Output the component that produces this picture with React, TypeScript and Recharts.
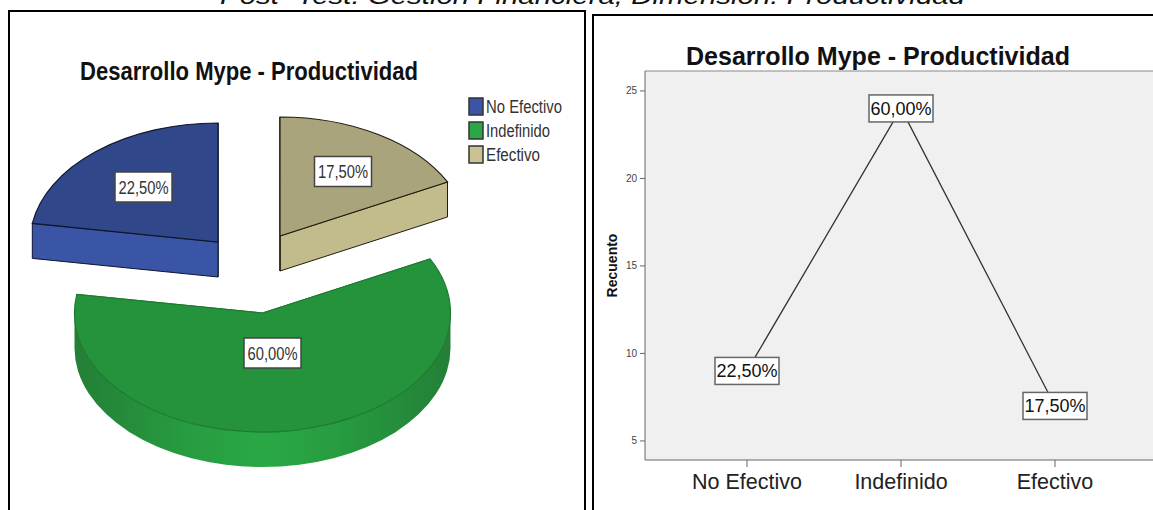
import { Legend, Line, LineChart, CartesianGrid, Pie, PieChart, ReferenceLine, XAxis, YAxis } from 'recharts'

const categorias = ['No Efectivo', 'Indefinido', 'Efectivo']
const recuento = [9, 24, 7]
const ticksRecuento = [5, 10, 15, 20, 25]
const titulo = 'Desarrollo Mype - Productividad'
const encabezado = 'Post -Test: Gestión Financiera, Dimensión: Productividad'

const total = recuento.reduce((a, b) => a + b, 0)
const porcentaje = (n: number) => ((n / total) * 100).toFixed(2).replace('.', ',') + '%'
const filas = categorias.map((nombre, i) => ({ nombre, recuento: recuento[i] }))

// colours and pull-out of each slice, in category order
const estilos = [
  { top: '#30478a', wall: '#3a55a5', edge: '#10162e', swatch: '#3a55a5', shift: [-32, -28], label: [-74.5, -55] },
  { top: '#25933c', wall: 'url(#paredVerde)', edge: '#1f7a32', swatch: '#2aa845', shift: [12.5, 43], label: [10, 40] },
  { top: '#a9a47c', wall: '#c2bc8c', edge: '#1f1d10', swatch: '#c8c294', shift: [30, -34], label: [63, -64.5] },
]

const APLASTADO = 0.633
const GROSOR = 35
const SANS = '"Liberation Sans", Arial, sans-serif'

function Rebanada(props: any) {
  const { cx, cy, outerRadius, startAngle, endAngle, index } = props
  const st = estilos[index]
  const ox = cx + st.shift[0]
  const oy = cy + st.shift[1]
  const rx = outerRadius
  const ry = outerRadius * APLASTADO
  const pt = (deg: number, dy = 0) => {
    const a = (deg * Math.PI) / 180
    return [ox + rx * Math.cos(a), oy - ry * Math.sin(a) + dy]
  }
  const [sx, sy] = pt(startAngle)
  const [ex, ey] = pt(endAngle)
  const large = endAngle - startAngle > 180 ? 1 : 0
  const top = `M${ox},${oy} L${sx},${sy} A${rx},${ry} 0 ${large} 0 ${ex},${ey} Z`

  // side walls along both straight cuts
  const corte = (x: number, y: number) =>
    `M${ox},${oy} L${x},${y} L${x},${y + GROSOR} L${ox},${oy + GROSOR} Z`

  // outer wall only on the half facing front (180-360 degrees)
  const a0 = Math.max(startAngle, 180)
  const a1 = Math.min(endAngle, 360)
  let curva = null
  if (a1 > a0) {
    const [p0x, p0y] = pt(a0)
    const [p1x, p1y] = pt(a1)
    curva = `M${p0x},${p0y} A${rx},${ry} 0 0 0 ${p1x},${p1y} L${p1x},${p1y + GROSOR} A${rx},${ry} 0 0 1 ${p0x},${p0y + GROSOR} Z`
  }

  const texto = porcentaje(recuento[index])
  const lx = ox + st.label[0]
  const ly = oy + st.label[1]
  return (
    <g>
      <path d={corte(sx, sy)} fill={st.wall} stroke={st.edge} strokeWidth={1} />
      <path d={corte(ex, ey)} fill={st.wall} stroke={st.edge} strokeWidth={1} />
      {curva && <path d={curva} fill={st.wall} stroke="none" />}
      <path d={top} fill={st.top} stroke={st.edge} strokeWidth={1.2} />
      <rect x={lx - 28.5} y={ly - 15} width={57} height={30} fill="#fff" stroke="#444" strokeWidth={1.5} />
      <text
        x={lx}
        y={ly + 6.5}
        textAnchor="middle"
        fontFamily={SANS}
        fontSize={18}
        fill="#333"
        textLength={50}
        lengthAdjust="spacingAndGlyphs"
      >
        {texto}
      </text>
    </g>
  )
}

const anchosLeyenda = [76, 64, 54]

function Leyenda() {
  return (
    <svg width={130} height={72} style={{ display: 'block' }}>
      {categorias.map((c, i) => (
        <g key={c} transform={`translate(0, ${i * 24})`}>
          <rect x={1} y={1} width={14} height={17} fill={estilos[i].swatch} stroke="#333" strokeWidth={1.5} />
          <text
            x={18}
            y={16}
            fontFamily={SANS}
            fontSize={18}
            fill="#333"
            textLength={anchosLeyenda[i]}
            lengthAdjust="spacingAndGlyphs"
          >
            {c}
          </text>
        </g>
      ))}
    </svg>
  )
}

function EtiquetaValor(props: any) {
  const { x, y, index } = props
  return (
    <g>
      <rect x={x - 32} y={y - 13.5} width={64} height={27} fill="#fff" stroke="#666" strokeWidth={1.5} />
      <text x={x} y={y + 6.5} textAnchor="middle" fontFamily={SANS} fontSize={18} fill="#111">
        {porcentaje(recuento[index])}
      </text>
    </g>
  )
}

export default function App() {
  return (
    <div style={{ position: 'absolute', left: 0, top: 0, width: 1153, height: 510, overflow: 'hidden', background: '#fff' }}>
      <svg width={1153} height={12} style={{ position: 'absolute', left: 0, top: 0 }}>
        <text
          x={220}
          y={3.5}
          fontFamily={SANS}
          fontStyle="italic"
          fontSize={23}
          fill="#111"
          textLength={745}
          lengthAdjust="spacingAndGlyphs"
        >
          {encabezado}
        </text>
      </svg>

      {/* pie panel */}
      <div style={{ position: 'absolute', left: 8, top: 10, width: 578, height: 520, boxSizing: 'border-box', border: '2px solid #000' }}>
        <PieChart width={574} height={498} margin={{ top: 0, right: 0, bottom: 0, left: 0 }}>
          <defs>
            <linearGradient id="paredVerde" x1="0" y1="0" x2="1" y2="0">
              <stop offset="0" stopColor="#237f36" />
              <stop offset="0.3" stopColor="#279c40" />
              <stop offset="0.5" stopColor="#2aa845" />
              <stop offset="0.7" stopColor="#279c40" />
              <stop offset="1" stopColor="#237f36" />
            </linearGradient>
          </defs>
          <text
            x={70}
            y={68}
            fontFamily={SANS}
            fontWeight="bold"
            fontSize={25}
            fill="#111"
            textLength={338}
            lengthAdjust="spacingAndGlyphs"
          >
            {titulo}
          </text>
          <Pie
            data={filas}
            dataKey="recuento"
            nameKey="nombre"
            cx={240}
            cy={258}
            outerRadius={188}
            startAngle={90}
            endAngle={450}
            shape={Rebanada}
            inactiveShape={Rebanada}
            activeShape={Rebanada}
            labelLine={false}
            isAnimationActive={false}
          />
          <Legend content={Leyenda} wrapperStyle={{ position: 'absolute', left: 458, top: 85, width: 130 }} />
        </PieChart>
      </div>

      {/* line panel */}
      <div style={{ position: 'absolute', left: 592, top: 14, width: 600, height: 520, boxSizing: 'border-box', border: '2px solid #000' }}>
        <LineChart width={559} height={494} data={filas} margin={{ top: 55, right: 0, bottom: 0, left: 0 }}>
          <CartesianGrid horizontal={false} vertical={false} fill="#f0f0f0" />
          <text x={92} y={49} fontFamily={SANS} fontWeight="bold" fontSize={25} fill="#111" textLength={384} lengthAdjust="spacingAndGlyphs">
            {titulo}
          </text>
          <XAxis
            dataKey="nombre"
            height={50}
            padding={{ left: 102, right: 98 }}
            stroke="#666"
            tickSize={7}
            tickMargin={7}
            tick={{ fontFamily: SANS, fontSize: 21.5, fill: '#222' }}
          />
          <YAxis
            width={51}
            domain={[3.91, 26.14]}
            ticks={ticksRecuento}
            stroke="#666"
            tickSize={5}
            tickMargin={3}
            tick={{ fontFamily: SANS, fontSize: 10, fill: '#444' }}
            label={{ value: 'Recuento', angle: -90, position: 'insideLeft', offset: 18, style: { fontFamily: SANS, fontWeight: 'bold', fontSize: 14, fill: '#111', textAnchor: 'middle' } }}
          />
          <ReferenceLine y={26.14} stroke="#888" />
          <Line
            dataKey="recuento"
            type="linear"
            stroke="#333"
            strokeWidth={1.3}
            dot={false}
            activeDot={false}
            label={EtiquetaValor}
            isAnimationActive={false}
          />
        </LineChart>
      </div>
    </div>
  )
}
